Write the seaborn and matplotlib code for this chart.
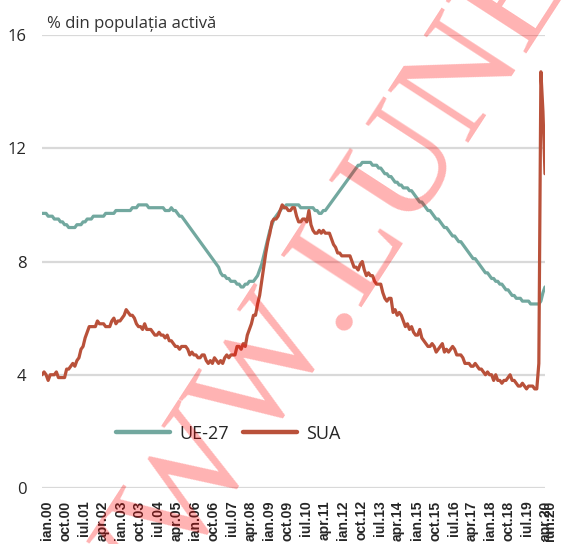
import pandas as pd
import matplotlib
matplotlib.use("Agg")
import matplotlib.pyplot as plt
import matplotlib.transforms as mtransforms
from matplotlib.lines import Line2D
import seaborn as sns

# somaj lunar, % din populatia activa, ian.2000 - iun.2020
lunile = ["ian", "feb", "mar", "apr", "mai", "iun", "iul", "aug", "sep", "oct", "noi", "dec"]
ue27 = [
    9.7, 9.7, 9.7, 9.6, 9.6, 9.6, 9.5, 9.5, 9.5, 9.4, 9.4, 9.3,
    9.3, 9.2, 9.2, 9.2, 9.2, 9.3, 9.3, 9.3, 9.4, 9.4, 9.5, 9.5,
    9.5, 9.6, 9.6, 9.6, 9.6, 9.6, 9.6, 9.7, 9.7, 9.7, 9.7, 9.7,
    9.8, 9.8, 9.8, 9.8, 9.8, 9.8, 9.8, 9.8, 9.9, 9.9, 9.9, 10.0,
    10.0, 10.0, 10.0, 10.0, 9.9, 9.9, 9.9, 9.9, 9.9, 9.9, 9.9, 9.9,
    9.8, 9.8, 9.8, 9.9, 9.8, 9.8, 9.7, 9.6, 9.6, 9.5, 9.4, 9.3,
    9.2, 9.1, 9.0, 8.9, 8.8, 8.7, 8.6, 8.5, 8.4, 8.3, 8.2, 8.1,
    8.0, 7.9, 7.8, 7.6, 7.5, 7.5, 7.4, 7.4, 7.3, 7.3, 7.3, 7.2,
    7.2, 7.1, 7.1, 7.2, 7.2, 7.3, 7.3, 7.3, 7.4, 7.5, 7.7, 7.9,
    8.2, 8.5, 8.8, 9.1, 9.3, 9.5, 9.6, 9.7, 9.8, 9.9, 9.9, 10.0,
    10.0, 10.0, 10.0, 10.0, 10.0, 10.0, 9.9, 9.9, 9.9, 9.9, 9.9, 9.9,
    9.9, 9.8, 9.8, 9.7, 9.7, 9.8, 9.8, 9.9, 10.0, 10.1, 10.2, 10.3,
    10.4, 10.5, 10.6, 10.7, 10.8, 10.9, 11.0, 11.1, 11.2, 11.3, 11.4, 11.4,
    11.5, 11.5, 11.5, 11.5, 11.5, 11.4, 11.4, 11.4, 11.3, 11.3, 11.2, 11.1,
    11.1, 11.0, 11.0, 10.9, 10.8, 10.8, 10.7, 10.7, 10.6, 10.6, 10.6, 10.5,
    10.5, 10.4, 10.3, 10.2, 10.1, 10.1, 10.0, 9.9, 9.8, 9.8, 9.7, 9.6,
    9.5, 9.5, 9.4, 9.3, 9.2, 9.2, 9.1, 9.0, 8.9, 8.9, 8.8, 8.7,
    8.7, 8.6, 8.5, 8.4, 8.3, 8.2, 8.1, 8.1, 8.0, 7.9, 7.8, 7.7,
    7.6, 7.6, 7.5, 7.4, 7.4, 7.3, 7.3, 7.2, 7.2, 7.1, 7.0, 7.0,
    6.9, 6.8, 6.8, 6.7, 6.7, 6.7, 6.6, 6.6, 6.6, 6.6, 6.5, 6.5,
    6.5, 6.5, 6.5, 6.6, 6.9, 7.1,
]
sua = [
    4.0, 4.1, 4.0, 3.8, 4.0, 4.0, 4.0, 4.1, 3.9, 3.9, 3.9, 3.9,
    4.2, 4.2, 4.3, 4.4, 4.3, 4.5, 4.6, 4.9, 5.0, 5.3, 5.5, 5.7,
    5.7, 5.7, 5.7, 5.9, 5.8, 5.8, 5.8, 5.7, 5.7, 5.7, 5.9, 6.0,
    5.8, 5.9, 5.9, 6.0, 6.1, 6.3, 6.2, 6.1, 6.1, 6.0, 5.8, 5.7,
    5.7, 5.6, 5.8, 5.6, 5.6, 5.6, 5.5, 5.4, 5.4, 5.5, 5.4, 5.4,
    5.3, 5.4, 5.2, 5.2, 5.1, 5.0, 5.0, 4.9, 5.0, 5.0, 5.0, 4.9,
    4.7, 4.8, 4.7, 4.7, 4.6, 4.6, 4.7, 4.7, 4.5, 4.4, 4.5, 4.4,
    4.6, 4.5, 4.4, 4.5, 4.4, 4.6, 4.7, 4.6, 4.7, 4.7, 4.7, 5.0,
    5.0, 4.9, 5.1, 5.0, 5.4, 5.6, 5.8, 6.1, 6.1, 6.5, 6.8, 7.3,
    7.8, 8.3, 8.7, 9.0, 9.4, 9.5, 9.5, 9.6, 9.8, 10.0, 9.9, 9.9,
    9.8, 9.8, 9.9, 9.9, 9.6, 9.4, 9.4, 9.5, 9.5, 9.4, 9.8, 9.3,
    9.1, 9.0, 9.0, 9.1, 9.0, 9.1, 9.0, 9.0, 9.0, 8.8, 8.6, 8.5,
    8.3, 8.3, 8.2, 8.2, 8.2, 8.2, 8.2, 8.0, 7.8, 7.8, 7.7, 7.9,
    8.0, 7.7, 7.5, 7.6, 7.5, 7.5, 7.3, 7.2, 7.2, 7.2, 6.9, 6.7,
    6.6, 6.7, 6.7, 6.2, 6.3, 6.1, 6.2, 6.1, 5.9, 5.7, 5.8, 5.6,
    5.7, 5.5, 5.4, 5.4, 5.6, 5.3, 5.2, 5.1, 5.0, 5.0, 5.1, 5.0,
    4.8, 4.9, 5.0, 5.1, 4.8, 4.9, 4.8, 4.9, 5.0, 4.9, 4.7, 4.7,
    4.7, 4.6, 4.4, 4.4, 4.4, 4.3, 4.3, 4.4, 4.3, 4.2, 4.2, 4.1,
    4.0, 4.1, 4.0, 4.0, 3.8, 4.0, 3.8, 3.8, 3.7, 3.8, 3.8, 3.9,
    4.0, 3.8, 3.8, 3.7, 3.6, 3.6, 3.7, 3.6, 3.5, 3.6, 3.6, 3.6,
    3.5, 3.5, 4.4, 14.7, 13.3, 11.1,
]
etichete = ["ian.00", "oct.00", "iul.01", "apr.02", "ian.03", "oct.03", "iul.04", "apr.05",
            "ian.06", "oct.06", "iul.07", "apr.08", "ian.09", "oct.09", "iul.10", "apr.11",
            "ian.12", "oct.12", "iul.13", "apr.14", "ian.15", "oct.15", "iul.16", "apr.17",
            "ian.18", "oct.18", "iul.19", "apr.20", "iun.20"]
pozitii = [lunile.index(e[:3]) + 12 * int(e[4:]) for e in etichete]

df = pd.concat([
    pd.DataFrame({"luna": range(len(ue27)), "val": ue27, "serie": "UE-27"}),
    pd.DataFrame({"luna": range(len(sua)), "val": sua, "serie": "SUA"}),
])
culori = {"UE-27": "#72a89f", "SUA": "#b9513a"}

sns.set_style("white")
plt.rcParams["font.family"] = ["Open Sans", "DejaVu Sans"]

fig = plt.figure(figsize=(5.67, 5.44), dpi=100)
ax = fig.add_axes([42 / 567, 56 / 544, 503 / 567, 453 / 544])
sns.lineplot(data=df, x="luna", y="val", hue="serie", hue_order=["UE-27", "SUA"],
             palette=culori, linewidth=2.3, legend=False, ax=ax)
ax.set_xlim(0, len(sua) - 1)
ax.set_ylim(0, 16)
ax.set_yticks([0, 4, 8, 12, 16])
ax.yaxis.grid(True, color="#d9d9d9", linewidth=1.6)
ax.set_axisbelow(True)
sns.despine(ax=ax, left=True, bottom=True)
ax.set_xlabel("")
ax.set_ylabel("")
ax.tick_params(axis="y", length=0, pad=11, labelsize=12)
ax.set_xticks(pozitii)
ax.set_xticklabels(etichete, rotation=90, fontsize=10, fontweight="bold",
                   family=["Liberation Sans Narrow", "Liberation Sans", "DejaVu Sans"])
ax.tick_params(axis="x", length=0, pad=9)
deplasare = mtransforms.ScaledTranslation(5 / 100, 0, fig.dpi_scale_trans)
for lbl in ax.get_xticklabels():
    lbl.set_transform(lbl.get_transform() + deplasare)

fig.text(47 / 567, 1 - 28 / 544, "% din populația activă", fontsize=12,
         color="#333333", va="baseline", ha="left")

handles = [Line2D([], [], color=culori[s], linewidth=3.2) for s in ["UE-27", "SUA"]]
ax.legend(handles, ["UE-27", "SUA"], loc="center", bbox_to_anchor=(0.37, 0.12),
          ncol=2, frameon=False, fontsize=13, handlelength=3.0, handletextpad=0.5,
          columnspacing=0.8)

# watermark
serif = ["Liberation Serif", "DejaVu Serif"]
fig.text(336 / 567, 1 - 333 / 544, "WWW", fontsize=106, family=serif,
         color="red", alpha=0.3, rotation=57, rotation_mode="anchor",
         ha="right", va="baseline", zorder=10)
fig.text(336 / 567, 1 - 333 / 544, ".LUNE", fontsize=106, family=serif,
         color="red", alpha=0.3, rotation=57, rotation_mode="anchor",
         ha="left", va="baseline", zorder=10)

fig.savefig("out.png", dpi=100)
